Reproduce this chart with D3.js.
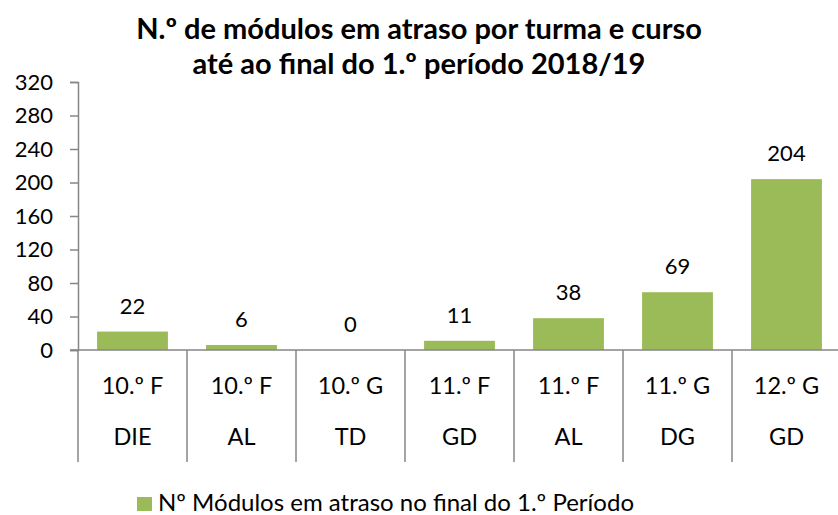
<!DOCTYPE html>
<html>
<head>
<meta charset="utf-8">
<script src="https://cdn.jsdelivr.net/npm/d3@7"></script>
<style>
    body { margin: 0; background: #fff; }
    text { font-family: Lato, "Open Sans", sans-serif; fill: #000; }
</style>
</head>
<body>
<div id="chart"></div>
<script>
// chart data
const turmas = ["10.º F", "10.º F", "10.º G", "11.º F", "11.º F", "11.º G", "12.º G"];
const cursos = ["DIE", "AL", "TD", "GD", "AL", "DG", "GD"];
const modulos = [22, 6, 0, 11, 38, 69, 204];
const yTicks = [0, 40, 80, 120, 160, 200, 240, 280, 320];
const titleLines = ["N.º de módulos em atraso por turma e curso", "até ao final do 1.º período 2018/19"];
const legendLabel = "Nº Módulos em atraso no final do 1.º Período";

const width = 838, height = 515;
const margin = { top: 82, right: -3, bottom: 165, left: 78 };
const axisColor = "#868686";
const barColor = "#9BBB59";

const svg = d3.select("#chart")
    .append("svg")
    .attr("width", width)
    .attr("height", height);

const keys = modulos.map((d, i) => i);

const x = d3.scaleBand()
    .domain(keys)
    .range([margin.left, width - margin.right])
    .paddingInner(0.35)
    .paddingOuter(0.175);

const y = d3.scaleLinear()
    .domain([0, 320])
    .range([height - margin.bottom, margin.top]);

// title
svg.append("g")
    .selectAll("text")
    .data(titleLines)
    .enter().append("text")
    .attr("x", width / 2)
    .attr("y", (d, i) => 39 + i * 35)
    .attr("text-anchor", "middle")
    .attr("font-size", 29)
    .attr("font-weight", "bold")
    .text(d => d);

// y axis
const yAxis = svg.append("g")
    .attr("transform", `translate(${margin.left},0)`)
    .call(d3.axisLeft(y).tickValues(yTicks).tickSize(8).tickPadding(17));
yAxis.select(".domain").attr("stroke", axisColor).attr("stroke-width", 1.5);
yAxis.selectAll(".tick line").attr("stroke", axisColor).attr("stroke-width", 1.5);
yAxis.selectAll(".tick text")
    .attr("font-size", 22)
    .attr("font-family", "Lato, sans-serif")
    .attr("fill", "#000");

// bars
svg.append("g")
    .selectAll("rect")
    .data(modulos)
    .enter().append("rect")
    .attr("x", (d, i) => x(i))
    .attr("y", d => y(d))
    .attr("width", x.bandwidth())
    .attr("height", d => y(0) - y(d))
    .attr("fill", barColor);

// value labels
svg.append("g")
    .selectAll("text")
    .data(modulos)
    .enter().append("text")
    .attr("x", (d, i) => x(i) + x.bandwidth() / 2)
    .attr("y", d => y(d) - 18)
    .attr("text-anchor", "middle")
    .attr("font-size", 22)
    .text(d => d);

// category axis with two levels
const y0 = y(0);
const step = x.step();
const bounds = keys.map(i => x(i) - step * x.paddingInner() / 2 - (i === 0 ? step * (x.paddingOuter() - x.paddingInner() / 2) : 0));
bounds.push(width - margin.right);

svg.append("line")
    .attr("x1", margin.left - 8).attr("x2", width)
    .attr("y1", y0).attr("y2", y0)
    .attr("stroke", axisColor).attr("stroke-width", 1.5);

svg.append("g")
    .selectAll("line")
    .data(bounds)
    .enter().append("line")
    .attr("x1", d => d).attr("x2", d => d)
    .attr("y1", y0).attr("y2", 462)
    .attr("stroke", axisColor).attr("stroke-width", 1.5);

svg.append("g")
    .selectAll("text")
    .data(turmas)
    .enter().append("text")
    .attr("x", (d, i) => x(i) + x.bandwidth() / 2)
    .attr("y", 394)
    .attr("text-anchor", "middle")
    .attr("font-size", 23.5)
    .text(d => d);

svg.append("g")
    .selectAll("text")
    .data(cursos)
    .enter().append("text")
    .attr("x", (d, i) => x(i) + x.bandwidth() / 2)
    .attr("y", 445)
    .attr("text-anchor", "middle")
    .attr("font-size", 23.5)
    .text(d => d);

// legend
const legend = svg.append("g").attr("transform", "translate(137,497)");
legend.append("rect")
    .attr("width", 15).attr("height", 14)
    .attr("fill", barColor);
legend.append("text")
    .attr("x", 21)
    .attr("y", 14)
    .attr("font-size", 24)
    .text(legendLabel);
</script>
</body>
</html>
